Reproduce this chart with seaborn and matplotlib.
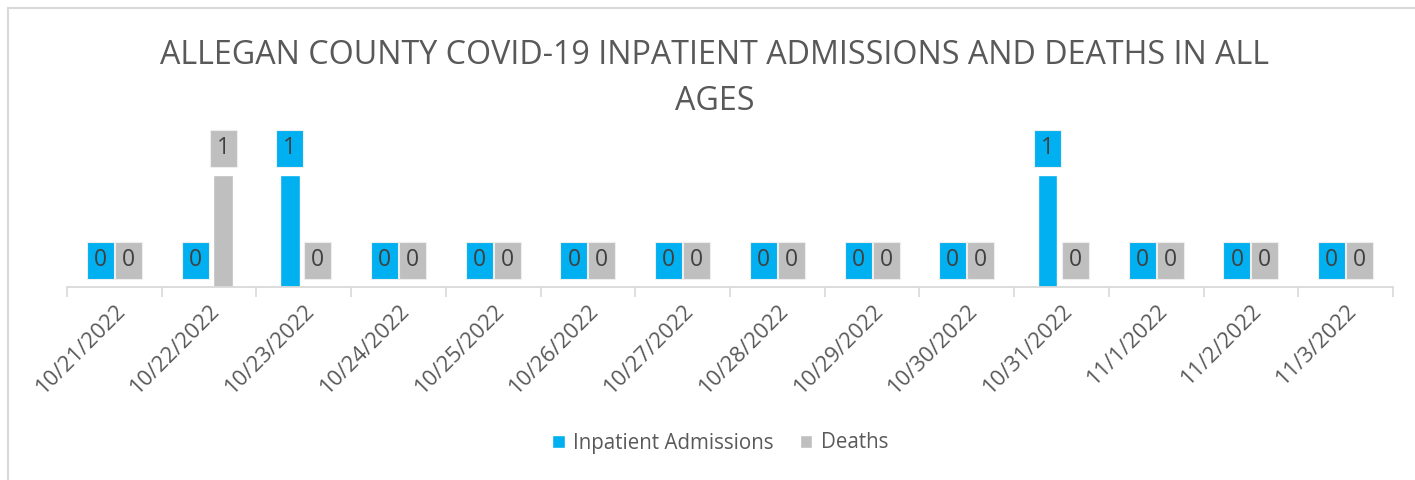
import seaborn as sns
import pandas as pd
import matplotlib.pyplot as plt
from matplotlib.patches import Rectangle

dates = ['10/21/2022', '10/22/2022', '10/23/2022', '10/24/2022', '10/25/2022',
         '10/26/2022', '10/27/2022', '10/28/2022', '10/29/2022', '10/30/2022',
         '10/31/2022', '11/1/2022', '11/2/2022', '11/3/2022']
admissions = [0, 0, 1, 0, 0, 0, 0, 0, 0, 0, 1, 0, 0, 0]
deaths = [0, 1, 0, 0, 0, 0, 0, 0, 0, 0, 0, 0, 0, 0]
series = ['Inpatient Admissions', 'Deaths']
colors = {'Inpatient Admissions': '#00B0F0', 'Deaths': '#BFBFBF'}

df = pd.DataFrame({
    'date': dates * 2,
    'value': admissions + deaths,
    'series': [series[0]] * len(dates) + [series[1]] * len(dates),
})

sns.set_theme(style='white')
plt.rcParams['font.family'] = ['Open Sans', 'DejaVu Sans']
txt = '#595959'

fig = plt.figure(figsize=(14.15, 4.8), dpi=100)
ax = fig.add_axes([67 / 1415, 1 - 287 / 480, (1393 - 67) / 1415, 168 / 480])

sns.barplot(data=df, x='date', y='value', hue='series', palette=colors,
            width=0.59, gap=0.29, order=dates, hue_order=series, ax=ax,
            legend=False, saturation=1)

ax.set_ylim(0, 1.5)
ax.set_xlim(-0.5, len(dates) - 0.5)
ax.set_yticks([])
ax.set_xlabel('')
ax.set_ylabel('')
for s in ['top', 'right', 'left']:
    ax.spines[s].set_visible(False)
ax.spines['bottom'].set_color('#D9D9D9')
ax.spines['bottom'].set_linewidth(1.3)

# category boundary ticks
ax.set_xticks([i - 0.5 for i in range(len(dates) + 1)], minor=True)
ax.tick_params(axis='x', which='minor', bottom=True, length=7, width=1.2, color='#D9D9D9')
ax.tick_params(axis='x', which='major', bottom=False, pad=4)
ax.set_xticks(range(len(dates)))
ax.set_xticklabels(dates, rotation=45, ha='right', rotation_mode='anchor',
                   color=txt, fontsize=15.8)

# data labels in boxes filled with series colour
box_w, box_h = 0.285, 0.33
for cont, name in zip(ax.containers, series):
    for bar in cont:
        cx = bar.get_x() + bar.get_width() / 2
        v = bar.get_height()
        cy = v + 0.24
        ax.add_patch(Rectangle((cx - box_w / 2, cy - box_h / 2), box_w, box_h,
                               facecolor=colors[name], edgecolor='#EEEEEE',
                               linewidth=0.8, clip_on=False, zorder=3))
        ax.text(cx, cy, f'{int(v)}', ha='center', va='center', fontsize=16.5,
                color='#404040', zorder=4)

fig.text(0.505, 1 - 55 / 480,
         'ALLEGAN COUNTY COVID-19 INPATIENT ADMISSIONS AND DEATHS IN ALL',
         ha='center', va='center', fontsize=23.2, color=txt)
fig.text(0.505, 1 - 101 / 480, 'AGES', ha='center', va='center', fontsize=23.2, color=txt)

handles = [Rectangle((0, 0), 1, 1, facecolor=colors[s]) for s in series]
fig.legend(handles, series, loc='center', bbox_to_anchor=(0.509, 1 - 443 / 480),
           ncol=2, frameon=False, fontsize=14.8, labelcolor=txt,
           handlelength=0.6, handleheight=0.6, handletextpad=0.4, columnspacing=1.3)

fig.patches.append(Rectangle((8 / 1415, -0.02), 1.0, 1 - 8 / 480 + 0.02,
                             transform=fig.transFigure, fill=False,
                             edgecolor='#D9D9D9', linewidth=1.5))

fig.savefig('out.png', dpi=100)
